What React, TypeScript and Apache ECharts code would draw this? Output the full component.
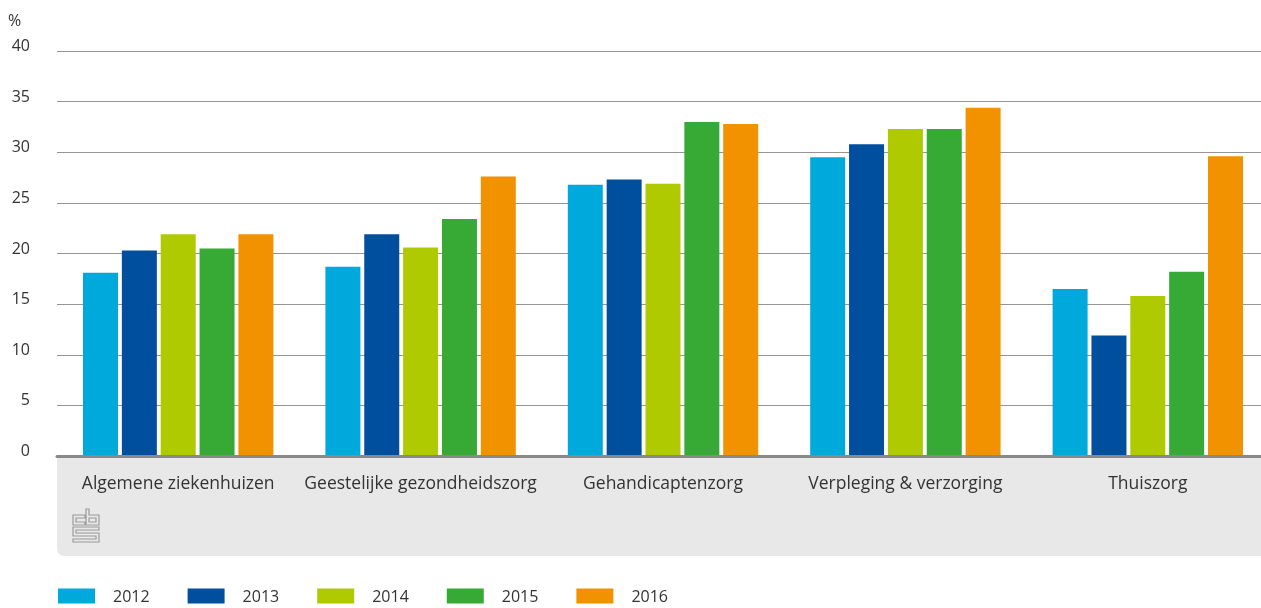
import React, { useEffect, useRef } from "react";
import * as echarts from "echarts";

const categories = [
  "Algemene ziekenhuizen",
  "Geestelijke gezondheidszorg",
  "Gehandicaptenzorg",
  "Verpleging & verzorging",
  "Thuiszorg",
];
const years = ["2012", "2013", "2014", "2015", "2016"];
const v2012 = [18.1, 18.7, 26.8, 29.5, 16.5];
const v2013 = [20.3, 21.9, 27.3, 30.8, 11.9];
const v2014 = [21.9, 20.6, 26.9, 32.3, 15.8];
const v2015 = [20.5, 23.4, 33.0, 32.3, 18.2];
const v2016 = [21.9, 27.6, 32.8, 34.4, 29.6];
const seriesValues = [v2012, v2013, v2014, v2015, v2016];
const colors = ["#00a9db", "#004f9e", "#afca00", "#37a935", "#f39200"];
const yTicks = [0, 5, 10, 15, 20, 25, 30, 35, 40];

const FONT = "'Open Sans', sans-serif";
const TEXT = "#333333";

const logoPath =
  "M12 6 H0 V16 H12 V13 H3 V9 H12 Z " +
  "M13 0 H16 V6 H26 V16 H13 Z M16 9 V13 H23 V9 Z " +
  "M0 18 H26 V21 H3 V24 H26 V33 H0 V30 H23 V27 H0 Z";

let registered = false;

export default function App() {
  const ref = useRef<HTMLDivElement>(null);
  useEffect(() => {
    if (!ref.current) return;
    document.body.style.overflow = "hidden";
    if (!registered) {
      echarts.graphic.registerShape("logo", echarts.graphic.extendPath(logoPath, {}));
      registered = true;
    }
    const chart = echarts.init(ref.current, undefined, { renderer: "svg" });
    chart.setOption({
      animation: false,
      textStyle: { fontFamily: FONT },
      grid: { left: 57, right: 0, top: 51, bottom: 152, containLabel: false },
      legend: {
        left: 58,
        top: 587,
        padding: 0,
        itemWidth: 37,
        itemHeight: 15,
        itemGap: 38,
        icon: "rect",
        data: years,
        textStyle: {
          fontSize: 16,
          lineHeight: 18,
          color: TEXT,
          fontFamily: FONT,
          padding: [0, 0, 0, 13],
        },
      },
      xAxis: {
        type: "category",
        data: categories,
        axisLine: { show: true, lineStyle: { color: "#888888", width: 3 } },
        axisTick: { show: false },
        axisLabel: { color: TEXT, fontSize: 17.5, margin: 17, fontFamily: FONT, interval: 0 },
        z: 3,
      },
      yAxis: {
        type: "value",
        min: yTicks[0],
        max: yTicks[yTicks.length - 1],
        interval: 5,
        axisLine: { show: false },
        axisTick: { show: false },
        axisLabel: {
          color: TEXT,
          fontSize: 16,
          margin: 27,
          verticalAlign: "bottom",
          lineHeight: 12,
          fontFamily: FONT,
        },
        splitLine: { lineStyle: { color: "#959595", width: 1 } },
      },
      series: years.map((y, i) => ({
        name: y,
        type: "bar",
        data: seriesValues[i],
        barWidth: 35,
        barGap: "11%",
        itemStyle: { color: colors[i] },
      })),
      graphic: [
        {
          type: "text",
          left: 8,
          top: 12,
          style: { text: "%", fontSize: 16, fill: TEXT, fontFamily: FONT },
        },
        {
          type: "rect",
          z: -10,
          shape: { x: 57, y: 456, width: 1212, height: 100, r: [0, 0, 0, 7] },
          style: { fill: "#e8e8e8" },
        },
        {
          type: "logo",
          x: 73,
          y: 509,
          scaleX: 1,
          scaleY: 1,
          style: { fill: "none", stroke: "#9a9a9a", lineWidth: 1.2 },
        },
      ],
    });
    return () => chart.dispose();
  }, []);
  return (
    <div
      ref={ref}
      style={{ position: "fixed", left: 0, top: 0, width: 1269, height: 608 }}
    />
  );
}
